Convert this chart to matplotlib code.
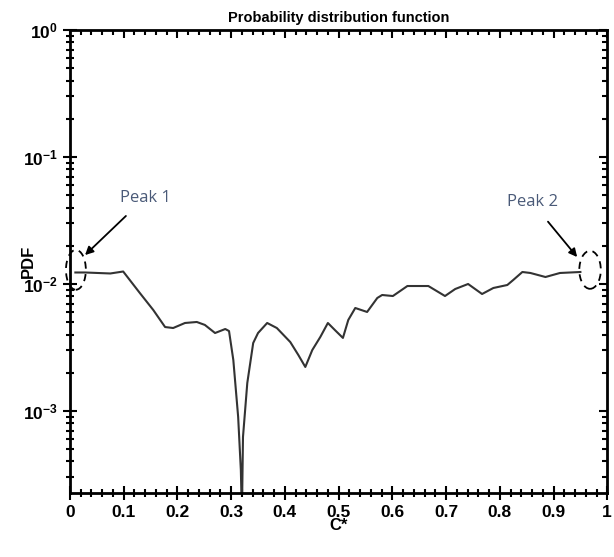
import matplotlib
matplotlib.use('Agg')
import matplotlib.pyplot as plt
from matplotlib.patches import Ellipse
from matplotlib.ticker import MultipleLocator, LogLocator, NullFormatter

plt.rcParams['font.family'] = 'Liberation Sans'
plt.rcParams['font.weight'] = 'bold'
plt.rcParams['mathtext.fontset'] = 'custom'
plt.rcParams['mathtext.rm'] = 'Liberation Sans:bold'
plt.rcParams['mathtext.it'] = 'Liberation Sans:bold'
plt.rcParams['mathtext.bf'] = 'Liberation Sans:bold'
plt.rcParams['axes.unicode_minus'] = False

# PDF of C*
c_star = [0.01, 0.028, 0.075, 0.099, 0.130, 0.155, 0.177, 0.192, 0.214, 0.236,
          0.251, 0.270, 0.289, 0.296, 0.304, 0.313, 0.318, 0.320, 0.322, 0.330,
          0.341, 0.350, 0.367, 0.385, 0.410, 0.425, 0.438, 0.451, 0.466, 0.480,
          0.493, 0.508, 0.518, 0.531, 0.553, 0.572, 0.581, 0.601, 0.628, 0.667,
          0.698, 0.717, 0.741, 0.767, 0.788, 0.814, 0.825, 0.842, 0.857, 0.885,
          0.912, 0.950]
pdf = [0.01232, 0.01232, 0.01210, 0.01254, 0.00849, 0.00624, 0.00458, 0.00450, 0.00493, 0.00502,
       0.00476, 0.00411, 0.00442, 0.00426, 0.00252, 0.000897, 0.000343, 0.00015, 0.000624, 0.00166,
       0.00343, 0.00411, 0.00493, 0.00450, 0.00349, 0.00276, 0.00222, 0.00302, 0.00383, 0.00493,
       0.00434, 0.00376, 0.00521, 0.00647, 0.00602, 0.00776, 0.00819, 0.00804, 0.00964, 0.00964,
       0.00804, 0.00913, 0.0100, 0.00834, 0.00930, 0.00982, 0.01075, 0.01243, 0.01221, 0.01135,
       0.01221, 0.01243]

peak_labels = ['Peak 1', 'Peak 2']
peak_text_pos = [(0.14, 0.048), (0.86, 0.044)]
peak_arrow_tip = [(0.028, 0.0169), (0.944, 0.0163)]

fig = plt.figure(figsize=(6.14, 5.57), dpi=100)
ax = fig.add_axes([0.114, 0.115, 0.875, 0.831])

ax.plot(c_star, pdf, color='#333333', lw=1.5)
ax.set_yscale('log')
ax.set_xlim(0, 1)
ax.set_ylim(2.26e-4, 1)

ax.xaxis.set_major_locator(MultipleLocator(0.1))
ax.xaxis.set_minor_locator(MultipleLocator(0.02))
ax.xaxis.set_major_formatter(plt.FuncFormatter(lambda v, p: '%g' % round(v, 2)))
ax.yaxis.set_major_locator(LogLocator(base=10, numticks=10))
ax.yaxis.set_minor_locator(LogLocator(base=10, subs=range(2, 10), numticks=20))
ax.yaxis.set_minor_formatter(NullFormatter())

ax.tick_params(which='both', direction='inout', labelsize=12.5, width=1.5)
ax.tick_params(which='major', length=10)
ax.tick_params(which='minor', length=6)
for s in ax.spines.values():
    s.set_linewidth(2)

top = ax.secondary_xaxis('top')
top.xaxis.set_major_locator(MultipleLocator(0.1))
top.xaxis.set_minor_locator(MultipleLocator(0.02))
top.tick_params(which='both', direction='in', labeltop=False, width=1.5)
top.tick_params(which='major', length=6)
top.tick_params(which='minor', length=3.5)

right = ax.secondary_yaxis('right')
right.yaxis.set_major_locator(LogLocator(base=10, numticks=10))
right.yaxis.set_minor_locator(LogLocator(base=10, subs=range(2, 10), numticks=20))
right.tick_params(which='both', direction='in', labelright=False, width=1.5)
right.tick_params(which='major', length=6)
right.tick_params(which='minor', length=3.5)

ax.set_title('Probability distribution function', fontsize=10.5, fontweight='bold', pad=6)
ax.set_xlabel('C*', fontsize=12, fontweight='bold', labelpad=-1)
ax.set_ylabel('PDF', fontsize=12, fontweight='bold', labelpad=-9)

for lab, tpos, tip in zip(peak_labels, peak_text_pos, peak_arrow_tip):
    ax.annotate(lab, xy=tip, xytext=tpos, ha='center', va='center',
                fontsize=12, fontweight='normal', color='#4a5a78', family='Open Sans',
                arrowprops=dict(arrowstyle='-|>', color='black', lw=1.3,
                                mutation_scale=12, shrinkA=8, shrinkB=0))

ax.add_patch(Ellipse((0.011, 0.482), 0.037, 0.086, transform=ax.transAxes,
                     fill=False, ls=(0, (4, 3)), lw=1.3, color='black', clip_on=False))
ax.add_patch(Ellipse((0.968, 0.482), 0.04, 0.082, transform=ax.transAxes,
                     fill=False, ls=(0, (4, 3)), lw=1.3, color='black', clip_on=False))

fig.savefig('out.png', dpi=100)
